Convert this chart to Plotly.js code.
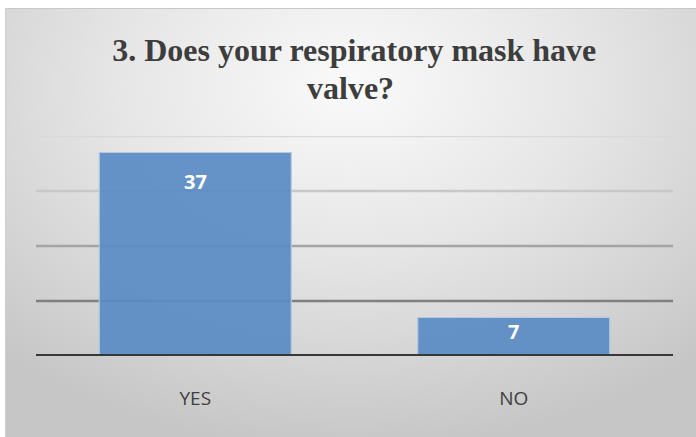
<!DOCTYPE html>
<html>
<head>
<meta charset="utf-8">
<script src="https://cdn.plot.ly/plotly-3.0.1.min.js"></script>
<style>
  html, body { margin: 0; padding: 0; background: #ffffff; }
  #wrap { position: relative; width: 696px; height: 437px; overflow: hidden; background: #ffffff; }
  #bg { position: absolute; left: 5px; top: 8px; width: 691px; height: 429px;
        background: radial-gradient(ellipse 75% 85% at 50% 18%, #fafafa 0%, #e6e6e6 45%, #d2d2d2 80%, #c6c6c6 100%);
        border-top: 1px solid #c8c8c8; border-left: 1px solid #cfcfcf; box-sizing: border-box; }
  #chart { position: absolute; left: 0; top: 0; width: 696px; height: 437px; }
</style>
</head>
<body>
<div id="wrap"><div id="bg"></div><div id="chart"></div></div>
<script>
const categories = ["YES", "NO"];
const counts = [37, 7];
const gridValues = [10, 20, 30, 40];
const gridColors = ["#808080", "#a4a4a4", "#c8c8c8", "#d9d9d9"];
const labelShifts = [-29, -14];
const titleLine1 = "3. Does your respiratory mask have";
const titleLine2 = "valve?";

const titleFont = { family: "Liberation Serif, Times New Roman, serif", size: 32, color: "#3d3d3d", weight: "bold" };

const shapes = gridValues.map((v, i) => ({
  type: "line", xref: "paper", yref: "y", x0: 0, x1: 1, y0: v, y1: v,
  line: { color: gridColors[i], width: 2.5 }, layer: "below"
}));
shapes.push({
  type: "line", xref: "paper", yref: "y", x0: 0, x1: 1, y0: 0, y1: 0,
  line: { color: "#383838", width: 4 }, layer: "above"
});

const annotations = categories.map((c, i) => ({
  x: c, y: counts[i], xref: "x", yref: "y", text: "<b>" + counts[i] + "</b>",
  showarrow: false, yshift: labelShifts[i], yanchor: "middle",
  font: { family: "Open Sans, Liberation Sans, sans-serif", size: 20, color: "#ffffff" }
}));
annotations.push({
  text: titleLine2, xref: "paper", yref: "paper", x: 0.493, y: 1, yshift: 136 - 88,
  xanchor: "center", yanchor: "middle", showarrow: false, font: titleFont
});

const trace = {
  type: "bar", x: categories, y: counts,
  marker: { color: "rgba(90,139,196,0.93)", line: { color: "#b6c9e2", width: 1.2 } },
  hoverinfo: "none"
};

const layout = {
  width: 696, height: 437,
  paper_bgcolor: "rgba(0,0,0,0)", plot_bgcolor: "rgba(0,0,0,0)",
  margin: { l: 36, r: 23, t: 136, b: 81, pad: 0 },
  bargap: 0.397,
  showlegend: false,
  title: {
    text: titleLine1, x: 0.509, xanchor: "center", yref: "container", y: 1 - 50 / 437, yanchor: "middle",
    font: titleFont
  },
  xaxis: {
    showgrid: false, zeroline: false, showline: false,
    ticks: "outside", ticklen: 25, tickcolor: "rgba(0,0,0,0)",
    tickfont: { family: "Open Sans, Liberation Sans, sans-serif", size: 19, color: "#404040" }
  },
  yaxis: {
    range: [0, 40], showgrid: false, zeroline: false, showline: false,
    showticklabels: false, ticks: ""
  },
  shapes: shapes,
  annotations: annotations
};

Plotly.newPlot("chart", [trace], layout, { displayModeBar: false, staticPlot: true });
</script>
</body>
</html>
